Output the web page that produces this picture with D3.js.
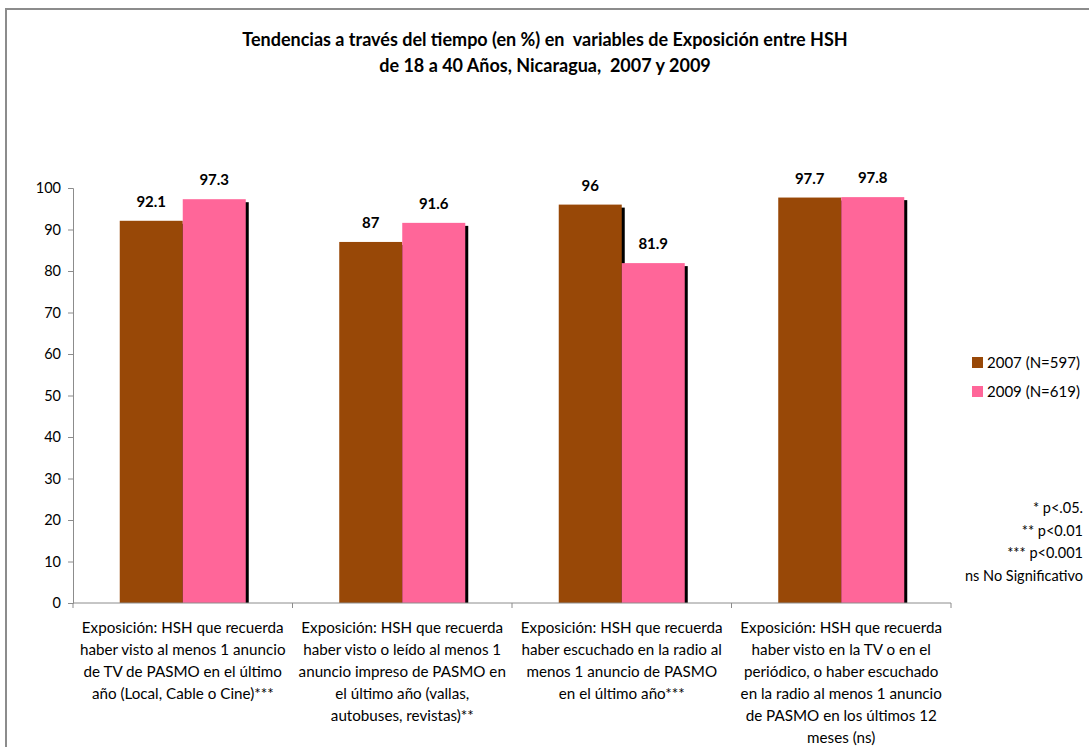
<!DOCTYPE html>
<html>
<head>
<meta charset="utf-8">
<script src="https://cdn.jsdelivr.net/npm/d3@7"></script>
<style>
  body { margin: 0; background: #fff; }
  text { font-family: Lato, "Open Sans", sans-serif; fill: #000; }
</style>
</head>
<body>
<svg width="1089" height="747"></svg>
<script>
var categories = ["tv", "impreso", "radio", "cualquiera"];
var categoryLines = [
  ["Exposición: HSH que recuerda", "haber visto al menos 1 anuncio", "de TV de PASMO en el último", "año (Local, Cable o Cine)***"],
  ["Exposición: HSH que recuerda", "haber visto o leído al menos 1", "anuncio impreso de PASMO en", "el último año (vallas,", "autobuses, revistas)**"],
  ["Exposición: HSH que recuerda", "haber escuchado en la radio al", "menos 1 anuncio de PASMO", "en el último año***"],
  ["Exposición: HSH que recuerda", "haber visto en la TV o en el", "periódico, o haber escuchado", "en la radio al menos 1 anuncio", "de PASMO en los últimos 12", "meses (ns)"]
];
var series = ["2007 (N=597)", "2009 (N=619)"];
var values2007 = [92.1, 87, 96, 97.7];
var values2009 = [97.3, 91.6, 81.9, 97.8];
var yTicks = [0, 10, 20, 30, 40, 50, 60, 70, 80, 90, 100];
var titleLines = ["Tendencias a través del tiempo (en %) en  variables de Exposición entre HSH",
                  "de 18 a 40 Años, Nicaragua,  2007 y 2009"];
var notes = ["* p<.05.", "** p<0.01", "*** p<0.001", "ns No Significativo"];
var colors = ["#984807", "#FF6699"];

var svg = d3.select("svg"),
    width = +svg.attr("width"),
    height = +svg.attr("height");

// outer chart border (cut off on the right and bottom like the original)
svg.append("rect")
    .attr("x", 6).attr("y", 9)
    .attr("width", 1200).attr("height", 900)
    .attr("fill", "none")
    .attr("stroke", "#8c8c8c")
    .attr("stroke-width", 2);

svg.append("g").selectAll("text")
    .data(titleLines)
    .enter().append("text")
    .attr("x", 545)
    .attr("y", function(d, i) { return 46 + i * 26; })
    .attr("text-anchor", "middle")
    .style("font-weight", "bold")
    .style("font-size", "18px")
    .style("white-space", "pre")
    .attr("xml:space", "preserve")
    .text(function(d) { return d; });

var x0 = d3.scaleBand().domain(categories).range([73, 951]);
var x1 = d3.scaleBand().domain(series).range([0, x0.bandwidth()]).paddingOuter(0.742);
var y = d3.scaleLinear().domain([0, 100]).range([603, 188]);

var rows = categories.map(function(c, i) {
  return { cat: c, vals: [
    { s: series[0], v: values2007[i], c: colors[0] },
    { s: series[1], v: values2009[i], c: colors[1] }
  ] };
});

// y axis
var yAxis = svg.append("g")
    .attr("transform", "translate(73,0)")
    .call(d3.axisLeft(y).tickValues(yTicks).tickSize(5).tickPadding(7));
yAxis.select(".domain").attr("stroke", "#8c8c8c");
yAxis.selectAll("line").attr("stroke", "#8c8c8c");
yAxis.selectAll("text").style("font-size", "14.5px").style("font-family", "Lato, sans-serif").attr("fill", "#000");

// bars with shadow
var groups = svg.append("g").selectAll("g")
    .data(rows)
    .enter().append("g")
    .attr("transform", function(d) { return "translate(" + x0(d.cat) + ",0)"; });

groups.selectAll("rect.shadow")
    .data(function(d) { return d.vals; })
    .enter().append("rect")
    .attr("class", "shadow")
    .attr("x", function(d) { return x1(d.s) + 3; })
    .attr("y", function(d) { return y(d.v) + 3; })
    .attr("width", x1.bandwidth())
    .attr("height", function(d) { return y(0) - y(d.v) - 3; })
    .attr("fill", "#000");

groups.selectAll("rect.bar")
    .data(function(d) { return d.vals; })
    .enter().append("rect")
    .attr("class", "bar")
    .attr("x", function(d) { return x1(d.s); })
    .attr("y", function(d) { return y(d.v); })
    .attr("width", x1.bandwidth())
    .attr("height", function(d) { return y(0) - y(d.v); })
    .attr("fill", function(d) { return d.c; });

groups.selectAll("text.lbl")
    .data(function(d) { return d.vals; })
    .enter().append("text")
    .attr("class", "lbl")
    .attr("x", function(d) { return x1(d.s) + x1.bandwidth() / 2; })
    .attr("y", function(d) { return y(d.v) - 14; })
    .attr("text-anchor", "middle")
    .style("font-weight", "bold")
    .style("font-size", "15px")
    .text(function(d) { return d.v; });

// x axis
var xAxis = svg.append("g").attr("transform", "translate(0,603)");
xAxis.append("line")
    .attr("x1", 73).attr("x2", 951)
    .attr("stroke", "#8c8c8c");
xAxis.selectAll("line.tick")
    .data(categories.concat(["end"]))
    .enter().append("line")
    .attr("class", "tick")
    .attr("x1", function(d) { return d === "end" ? 951 : x0(d); })
    .attr("x2", function(d) { return d === "end" ? 951 : x0(d); })
    .attr("y1", 0).attr("y2", 5)
    .attr("stroke", "#8c8c8c");

svg.append("g").selectAll("text")
    .data(categories)
    .enter().append("text")
    .attr("x", function(d) { return x0(d) + x0.bandwidth() / 2; })
    .attr("y", 633)
    .attr("text-anchor", "middle")
    .style("font-size", "15.2px")
    .each(function(d, i) {
      var t = d3.select(this);
      categoryLines[i].forEach(function(line, j) {
        t.append("tspan")
          .attr("x", x0(d) + x0.bandwidth() / 2)
          .attr("dy", j === 0 ? 0 : 22)
          .text(line);
      });
    });

// legend
var legend = svg.append("g").selectAll("g")
    .data(series)
    .enter().append("g")
    .attr("transform", function(d, i) { return "translate(972," + (357 + i * 29) + ")"; });
legend.append("rect")
    .attr("width", 11).attr("height", 11)
    .attr("fill", function(d, i) { return colors[i]; });
legend.append("text")
    .attr("x", 15).attr("y", 11)
    .style("font-size", "15px")
    .text(function(d) { return d; });

// significance notes
svg.append("g").selectAll("text")
    .data(notes)
    .enter().append("text")
    .attr("x", 1083)
    .attr("y", function(d, i) { return 513 + i * 22.5; })
    .attr("text-anchor", "end")
    .style("font-size", "14.5px")
    .text(function(d) { return d; });
</script>
</body>
</html>
